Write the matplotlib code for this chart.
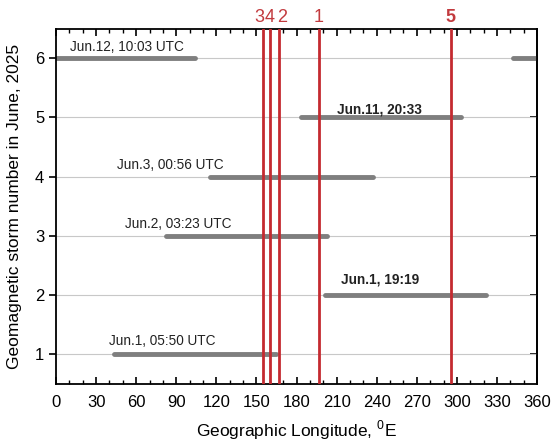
import numpy as np
import matplotlib.pyplot as plt
from matplotlib.ticker import MultipleLocator

plt.rcParams['font.family'] = ['Liberation Sans', 'DejaVu Sans']
plt.rcParams['mathtext.fontset'] = 'custom'
plt.rcParams['mathtext.rm'] = 'Liberation Sans'

# storm tracks: (number, start lon, end lon)
storm_num = [1, 2, 3, 4, 5, 6, 6]
lon_start = [43.5, 201, 82, 115, 183.5, 0, 342]
lon_end = [165, 321.5, 203, 237, 303, 104, 360]

# labels
label_text = ['Jun.1, 05:50 UTC', 'Jun.1, 19:19', 'Jun.2, 03:23 UTC',
              'Jun.3, 00:56 UTC', 'Jun.11, 20:33', 'Jun.12, 10:03 UTC']
label_lon = [40, 213, 51.5, 46, 210.5, 10.5]
label_y = [1.22, 2.27, 3.2, 4.19, 5.14, 6.19]
label_bold = [False, True, False, False, True, False]

# red vertical lines
red_lon = [155.2, 160.5, 167, 196.8, 295.5]
red_name = ['3', '4', '2', '1', '5']
red_text_lon = [152.3, 159.6, 169.2, 196.8, 295.5]

fig = plt.figure(figsize=(5.56, 4.48), dpi=100)
ax = fig.add_axes([0.1007, 0.143, 0.8653, 0.793])

for y in range(1, 7):
    ax.axhline(y, color='#c8c8c8', lw=0.8, zorder=1)

for n, a, b in zip(storm_num, lon_start, lon_end):
    ax.plot([a, b], [n, n], color='#7f7f7f', lw=3.5, solid_capstyle='round', zorder=2)

for t, x, y, b in zip(label_text, label_lon, label_y, label_bold):
    ax.text(x, y, t, fontsize=9.8, color='#222222', va='center', ha='left',
            fontweight='bold' if b else 'normal', zorder=4)

for x, name, tx in zip(red_lon, red_name, red_text_lon):
    ax.axvline(x, color='#c42a30', lw=2.0, zorder=3)
    ax.text(tx, 1.008, name, transform=ax.get_xaxis_transform(), color='#c23a3e',
            fontsize=13, ha='center', va='bottom', clip_on=False,
            fontweight='bold' if name == '5' else 'normal')

ax.set_xlim(0, 360)
ax.set_ylim(0.5, 6.5)
ax.xaxis.set_major_locator(MultipleLocator(30))
ax.xaxis.set_minor_locator(MultipleLocator(10))
ax.yaxis.set_major_locator(MultipleLocator(1))
ax.tick_params(axis='x', which='both', direction='in', top=True, labelsize=12, pad=8)
ax.tick_params(axis='x', which='major', length=5, width=1.2)
ax.tick_params(axis='x', which='minor', length=3, width=1)
ax.tick_params(axis='y', which='major', direction='out', length=5, width=1.2, labelsize=12)
sec = ax.secondary_yaxis('right')
sec.yaxis.set_major_locator(MultipleLocator(1))
sec.tick_params(direction='in', length=5, width=1.2, labelright=False)
for s in ax.spines.values():
    s.set_linewidth(1.3)
sec.spines['right'].set_linewidth(1.3)

ax.set_xlabel('Geographic Longitude, $^{0}$E', fontsize=12.5, labelpad=6)
ax.set_ylabel('Geomagnetic storm number in June, 2025', fontsize=12.5, labelpad=9)

fig.savefig('out.png', dpi=100)
